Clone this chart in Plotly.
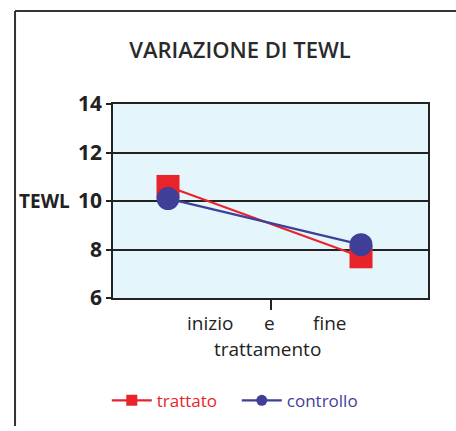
import plotly.graph_objects as go

# Data
fasi = ["inizio", "fine"]
fase_pos = [0, 1]
trattato = [10.6, 7.7]
controllo = [10.1, 8.2]
y_ticks = [6, 8, 10, 12, 14]

RED = "#e8242a"
BLUE = "#3f3f98"
FONT = "Open Sans"

fig = go.Figure()
fig.add_trace(go.Scatter(
    x=fase_pos, y=trattato, mode="lines+markers", showlegend=False,
    line=dict(color=RED, width=2.2),
    marker=dict(symbol="square", size=23, color=RED),
))
fig.add_trace(go.Scatter(
    x=fase_pos, y=controllo, mode="lines+markers", showlegend=False,
    line=dict(color=BLUE, width=2.2),
    marker=dict(symbol="circle", size=23, color=BLUE),
))
# legend entries
fig.add_trace(go.Scatter(
    x=[None], y=[None], mode="lines+markers",
    name=f"<span style='color:{RED}'>trattato</span>",
    line=dict(color=RED, width=2.2),
    marker=dict(symbol="square", size=11, color=RED),
))
fig.add_trace(go.Scatter(
    x=[None], y=[None], mode="lines+markers",
    name=f"<span style='color:{BLUE}'>controllo</span>",
    line=dict(color=BLUE, width=2.2),
    marker=dict(symbol="circle", size=11, color=BLUE),
))

fig.update_layout(
    width=456, height=431,
    margin=dict(l=113, r=28, t=104, b=127),
    paper_bgcolor="white",
    plot_bgcolor="#e4f5fb",
    font=dict(family=FONT, color="#222"),
    title=dict(text="VARIAZIONE DI TEWL", x=240/456, xanchor="center",
               y=1 - 50/431, yanchor="middle",
               font=dict(family=FONT, size=22, color="#2a2a2a", weight=600)),
    showlegend=True,
    legend=dict(orientation="h", x=0.393, xanchor="center", y=-0.53, yanchor="middle",
                font=dict(family=FONT, size=17), itemwidth=40, entrywidth=75,
                bgcolor="rgba(0,0,0,0)"),
    xaxis=dict(range=[-0.285, 1.347], tickvals=[0.531], ticktext=[""],
               ticks="outside", ticklen=10, tickcolor="#222", tickwidth=1.5,
               showgrid=False, zeroline=False,
               showline=True, linecolor="#222", linewidth=1.5, mirror=True),
    yaxis=dict(range=[6, 14], tickvals=y_ticks, ticks="outside", ticklen=5,
               tickcolor="#222", tickwidth=1.5,
               tickfont=dict(family=FONT, size=21, color="#222", weight="bold"),
               showgrid=True, gridcolor="#222", gridwidth=1.5, zeroline=False,
               showline=True, linecolor="#222", linewidth=1.5, mirror=True),
)

ann_font = dict(family=FONT, size=19, color="#222")
fig.add_annotation(text="inizio", x=0.308, y=-0.13, xref="paper", yref="paper",
                   showarrow=False, font=ann_font, xanchor="center", yanchor="middle")
fig.add_annotation(text="e", x=0.498, y=-0.13, xref="paper", yref="paper",
                   showarrow=False, font=ann_font, xanchor="center", yanchor="middle")
fig.add_annotation(text="fine", x=0.689, y=-0.13, xref="paper", yref="paper",
                   showarrow=False, font=ann_font, xanchor="center", yanchor="middle")
fig.add_annotation(text="trattamento", x=0.489, y=-0.265, xref="paper", yref="paper",
                   showarrow=False, font=ann_font, xanchor="center", yanchor="middle")
fig.add_annotation(text="TEWL", x=-0.13, y=0.5, xref="paper", yref="paper",
                   showarrow=False, xanchor="right", yanchor="middle",
                   font=dict(family=FONT, size=19, color="#222", weight="bold"))

# outer frame (left and top edges)
fig.add_shape(type="line", xref="paper", yref="paper", x0=-0.311, x1=-0.311, y0=1.48, y1=-0.66,
              line=dict(color="#333", width=2))
fig.add_shape(type="line", xref="paper", yref="paper", x0=-0.311, x1=1.2, y0=1.48, y1=1.48,
              line=dict(color="#333", width=2))

fig.write_html("out.html", config={"displayModeBar": False},
               post_script="document.body.style.margin='0';document.body.style.overflow='hidden';")
